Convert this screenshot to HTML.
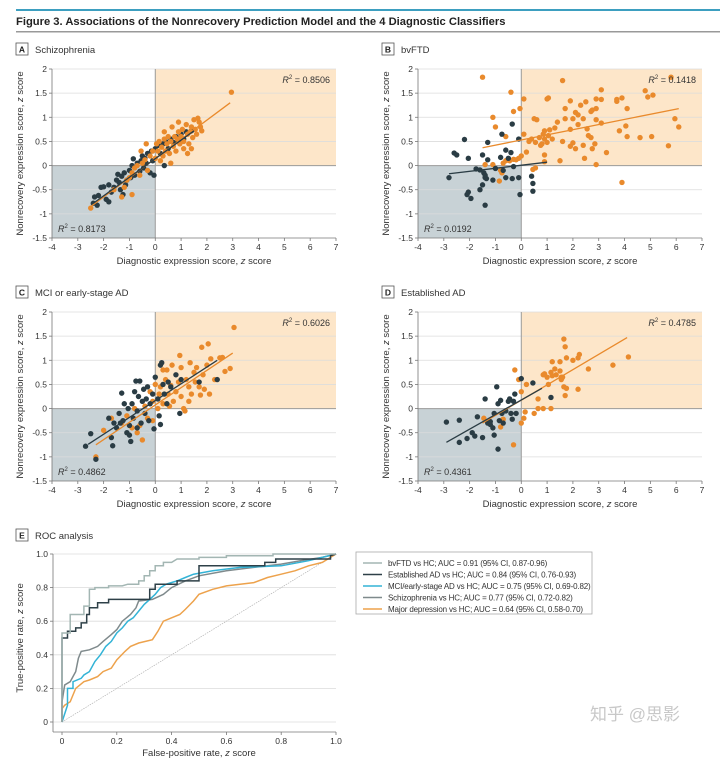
<!DOCTYPE html>
<html><head><meta charset="utf-8"><style>
body{margin:0;background:#fff;}
svg{display:block;font-family:"Liberation Sans",sans-serif;}
</style></head><body>
<svg id="fig" width="720" height="763" viewBox="0 0 720 763" xmlns="http://www.w3.org/2000/svg">
<rect x="16" y="9" width="704" height="2" fill="#3d9fc0"/>
<text x="16" y="25" font-size="11.2" font-weight="bold" fill="#222">Figure 3. Associations of the Nonrecovery Prediction Model and the 4 Diagnostic Classifiers</text>
<rect x="16" y="31" width="704" height="1.5" fill="#999"/>
</svg>
<script>
const NS='http://www.w3.org/2000/svg';
const svg=document.getElementById('fig');
function mk(tag,attrs,parent){const e=document.createElementNS(NS,tag);for(const k in attrs)e.setAttribute(k,attrs[k]);(parent||svg).appendChild(e);return e;}

// ---------- scatter data ----------
const xTicks=[-4,-3,-2,-1,0,1,2,3,4,5,6,7];
const yTicks=[2,1.5,1,0.5,0,-0.5,-1,-1.5];
const yTickLabels=['2','1.5','1','0.5','0','-0.5','-1','-1.5'];
const panelLetters=['A','B','C','D'];
const panelTitles=['Schizophrenia','bvFTD','MCI or early-stage AD','Established AD'];
const r2Orange=['0.8506','0.1418','0.6026','0.4785'];
const r2Dark=['0.8173','0.0192','0.4862','0.4361'];
const fitOrange=[[-2.5,-0.85,2.9,1.3],[-1.5,0.37,6.1,1.18],[-2.3,-0.75,3.0,1.15],[-1.5,-0.3,4.1,1.47]];
const fitDark=[[-2.4,-0.78,1.5,0.72],[-2.8,-0.17,1.0,0.07],[-2.6,-0.74,2.4,1.0],[-2.9,-0.7,0.8,0.42]];
const darkA=[-2.4,-0.78,-2.35,-0.65,-2.2,-0.62,-2.1,-0.45,-2.0,-0.44,-1.9,-0.7,-1.8,-0.75,-1.7,-0.55,-1.6,-0.45,-1.5,-0.3,-1.45,-0.18,-1.4,-0.35,-1.35,-0.5,-1.3,-0.22,-1.2,-0.15,-1.15,-0.4,-1.1,-0.3,-1.0,-0.1,-0.95,-0.25,-0.9,0.0,-0.85,0.14,-0.8,-0.2,-0.7,0.05,-0.6,-0.12,-0.55,0.1,-0.5,0.2,-0.45,-0.05,-0.4,0.15,-0.35,0.05,-0.3,0.25,-0.2,-0.15,-0.15,0.3,-0.1,0.1,0.0,0.35,0.1,0.42,0.2,0.25,0.3,0.45,0.4,0.5,0.5,0.35,0.6,0.55,0.7,0.48,0.8,0.6,0.9,0.5,1.0,0.65,1.1,0.55,1.2,0.7,1.4,0.72,-1.25,-0.6,-1.8,-0.4,-0.05,-0.2,0.35,0.0,-2.25,-0.82];
const orangeA=[2.95,1.52,-2.5,-0.88,-1.6,-0.5,-1.3,-0.65,-1.2,-0.45,-1.1,-0.3,-0.9,-0.15,-0.8,-0.05,-0.7,0.0,-0.6,-0.2,-0.5,0.05,-0.4,0.12,-0.35,0.45,-0.3,-0.1,-0.2,0.2,-0.1,0.3,0.0,0.15,0.05,0.45,0.1,0.3,0.15,0.5,0.2,0.1,0.25,0.38,0.3,0.2,0.35,0.55,0.4,0.3,0.45,0.45,0.5,0.6,0.55,0.25,0.6,0.5,0.65,0.8,0.7,0.4,0.75,0.6,0.8,0.3,0.85,0.55,0.9,0.7,0.95,0.45,1.0,0.6,1.05,0.75,1.1,0.5,1.2,0.85,1.25,0.65,1.3,0.45,1.35,0.7,1.4,0.8,1.45,0.58,1.5,0.95,1.55,0.75,1.6,0.65,1.7,0.9,1.75,0.8,1.8,0.72,1.65,0.98,1.25,0.25,0.6,0.05,1.4,0.35,-1.0,-0.25,-0.55,0.3,0.35,0.7,0.9,0.9,1.1,0.35,-0.9,-0.6];
const darkB=[-2.2,0.54,-0.35,0.86,-0.75,0.65,-1.3,0.48,-0.1,0.55,-2.6,0.26,-2.5,0.22,-0.6,0.32,-0.4,0.27,-1.5,0.22,-0.8,0.17,-2.05,0.15,-1.3,0.12,-0.5,0.15,-1.75,-0.07,-1.6,-0.09,-1.0,-0.06,-0.3,-0.02,-1.45,-0.15,-2.8,-0.25,-1.4,-0.25,-1.35,-0.27,-1.1,-0.3,-0.6,-0.25,-0.35,-0.27,-0.1,-0.25,0.4,-0.22,-1.5,-0.4,0.45,-0.37,-1.6,-0.5,-2.1,-0.6,-2.05,-0.55,0.45,-0.53,-0.05,-0.6,-1.95,-0.68,-1.4,-0.82,-1.4,-0.2,-0.7,-0.1];
const orangeB=[-1.5,1.83,5.8,1.83,1.6,1.76,-0.4,1.52,3.1,1.57,4.8,1.55,5.1,1.46,4.9,1.42,1.05,1.4,1.0,1.38,0.1,1.38,2.9,1.38,3.1,1.37,3.7,1.37,3.9,1.4,1.9,1.34,2.5,1.32,2.3,1.25,1.7,1.18,-0.05,1.18,-0.3,1.12,2.1,1.1,2.9,1.18,2.75,1.15,2.7,1.12,4.1,1.18,3.7,1.33,2.2,1.05,-1.1,1.0,0.5,0.97,0.6,0.95,1.7,0.97,2.0,0.97,2.4,0.97,2.9,0.95,5.95,0.97,1.4,0.9,2.2,0.85,3.1,0.88,-1.0,0.8,1.9,0.75,2.55,0.76,0.9,0.72,1.1,0.74,1.3,0.78,6.1,0.8,4.05,0.82,0.1,0.65,3.8,0.72,0.85,0.65,1.05,0.62,2.6,0.62,-0.6,0.6,4.1,0.6,5.05,0.6,4.6,0.58,0.7,0.58,0.4,0.55,0.9,0.55,1.2,0.55,2.7,0.58,1.6,0.5,2.0,0.47,0.3,0.5,0.55,0.48,0.8,0.45,1.0,0.48,2.4,0.42,2.85,0.45,5.7,0.41,0.75,0.42,1.9,0.4,0.2,0.28,0.9,0.22,2.75,0.35,3.3,0.27,2.1,0.35,-0.3,0.13,-0.1,0.15,0.0,0.2,2.45,0.15,1.5,0.1,0.9,0.08,-0.6,0.1,-0.7,0.05,-1.4,0.02,-1.1,0.02,2.9,0.02,-0.8,-0.1,-0.75,-0.15,0.45,-0.08,0.55,-0.05,-0.85,-0.32,3.9,-0.35,-0.2,0.12,-0.45,0.1];
const darkC=[-2.7,-0.78,-2.5,-0.52,-2.3,-1.05,-1.8,-0.2,-1.7,-0.6,-1.65,-0.77,-1.6,-0.3,-1.5,-0.4,-1.4,-0.1,-1.3,0.32,-1.25,-0.25,-1.2,0.1,-1.1,-0.5,-1.05,0.0,-1.0,-0.35,-0.95,-0.68,-0.9,0.1,-0.85,-0.2,-0.8,0.35,-0.75,0.57,-0.7,-0.05,-0.65,0.25,-0.6,0.57,-0.55,-0.3,-0.5,0.15,-0.45,0.4,-0.4,-0.1,-0.35,0.2,-0.3,0.45,-0.25,-0.25,-0.2,0.1,-0.1,0.3,-0.05,-0.42,0.0,0.65,0.1,0.2,0.15,-0.15,0.2,0.9,0.25,0.95,0.3,0.5,0.35,0.3,0.45,0.1,0.5,0.55,0.6,0.45,0.8,0.7,0.95,-0.1,1.0,0.6,1.7,0.55,2.4,0.6,0.2,-0.33,-1.0,-0.55,-0.7,-0.4,-1.35,-0.3];
const orangeC=[3.05,1.68,-2.3,-1.0,-2.0,-0.45,-1.7,-0.2,-1.3,-0.3,-1.1,-0.15,-0.9,-0.4,-0.8,0.0,-0.7,-0.5,-0.6,-0.35,-0.5,-0.65,-0.4,0.05,-0.3,-0.2,-0.2,0.35,-0.1,0.15,0.0,0.5,0.1,0.0,0.15,0.3,0.2,0.45,0.3,0.1,0.4,0.6,0.5,0.3,0.6,0.48,0.7,0.15,0.8,0.35,0.9,0.55,0.95,1.1,1.0,0.25,1.1,0.0,1.15,-0.05,1.2,0.6,1.3,0.45,1.35,0.95,1.4,0.3,1.5,0.75,1.55,0.55,1.6,0.85,1.7,0.45,1.75,0.28,1.8,1.27,1.85,0.7,1.9,0.4,2.0,0.9,2.05,1.34,2.1,0.3,2.15,1.03,2.3,0.6,2.5,1.05,2.6,1.06,2.7,0.77,2.9,0.83,0.55,0.05,1.0,0.85,0.45,0.8,0.65,0.9,-0.1,-0.25,0.3,0.8,1.3,0.15];
const darkD=[-2.9,-0.28,-2.4,-0.7,-2.4,-0.24,-2.1,-0.62,-1.9,-0.5,-1.8,-0.57,-1.7,-0.17,-1.5,-0.6,-1.4,0.2,-1.3,-0.3,-1.2,-0.33,-1.1,-0.4,-1.05,-0.55,-1.05,-0.1,-0.95,0.45,-0.9,0.1,-0.85,-0.25,-0.8,0.17,-0.75,-0.1,-0.7,-0.3,-0.6,-0.05,-0.5,0.15,-0.45,0.2,-0.4,-0.1,-0.35,-0.22,-0.3,0.15,-0.25,0.3,-0.2,-0.1,0.0,0.62,0.45,0.53,1.15,0.23,-0.9,-0.84,-1.2,-0.27];
const orangeD=[-0.25,0.8,-0.1,0.6,0.0,0.35,0.0,-0.3,0.1,-0.2,0.15,-0.07,0.2,0.5,0.5,-0.1,0.65,0.2,0.65,0.0,0.85,0.0,0.85,0.7,0.9,0.72,1.0,0.65,1.05,0.5,1.15,0.0,1.15,0.75,1.2,0.97,1.2,0.68,1.3,0.82,1.35,0.7,1.5,0.97,1.5,0.78,1.55,0.6,1.6,0.65,1.65,1.44,1.7,1.28,1.65,0.45,1.7,0.27,1.75,0.42,1.75,1.05,2.0,1.0,2.2,1.05,2.25,1.12,2.2,0.4,2.6,0.82,3.55,0.9,4.15,1.07,-0.3,-0.75,-0.8,-0.38,-0.7,-0.22,-1.45,-0.2,1.55,0.65];
const darkSets=[darkA,darkB,darkC,darkD];
const orangeSets=[orangeA,orangeB,orangeC,orangeD];
const orangeOnTop=[true,false,false,false];

const ORANGE='#e98a2c', DARK='#2a3c44';
const panelOffsets=[[0,0],[366,0],[0,243],[366,243]];

function panel(i){
  const [ox,oy]=panelOffsets[i];
  const L=52+ox,R=336+ox,T=69+oy,B=238+oy;
  const sx=v=>L+(v-(-4))/(7-(-4))*(R-L);
  const sy=v=>B-(v-(-1.5))/(2-(-1.5))*(B-T);
  const g=mk('g',{});
  
  
  const lb=mk('rect',{x:16+ox,y:43+oy,width:12,height:12,fill:'#fff',stroke:'#555','stroke-width':0.8},g);
  
  const lt=mk('text',{x:22+ox,y:52.5+oy,'font-size':8.5,'font-weight':'bold','text-anchor':'middle',fill:'#222'},g);
  lt.textContent=panelLetters[i];
  
  const tt=mk('text',{x:35+ox,y:53+oy,'font-size':9.5,fill:'#333'},g);
  tt.textContent=panelTitles[i];
  
  const q1=mk('rect',{x:sx(0),y:T,width:R-sx(0),height:sy(0)-T,fill:'#fde6c9'},g);
  
  const q3=mk('rect',{x:L,y:sy(0),width:sx(0)-L,height:B-sy(0),fill:'#c8d2d6'},g);
  
  yTicks.forEach((t,k)=>{
    if(t!==-1.5){const gl=mk('line',{x1:L,x2:R,y1:sy(t),y2:sy(t),stroke:t===0?'#9a9a9a':'#dcdcdc','stroke-width':t===0?1:0.8},g);
    }
    const tl=mk('text',{x:L-5,y:sy(t)+3,'font-size':8.5,'text-anchor':'end',fill:'#333'},g);
    tl.textContent=yTickLabels[k];
    
    mk('line',{x1:L-3,x2:L,y1:sy(t),y2:sy(t),stroke:'#777','stroke-width':0.8},g);
  });
  const v0=mk('line',{x1:sx(0),x2:sx(0),y1:T,y2:B,stroke:'#9a9a9a','stroke-width':1},g);
  
  xTicks.forEach(t=>{
    mk('line',{x1:sx(t),x2:sx(t),y1:B,y2:B+3,stroke:'#777','stroke-width':0.8},g);
    const xl=mk('text',{x:sx(t),y:B+12,'font-size':8.5,'text-anchor':'middle',fill:'#333'},g);
    xl.textContent=String(t);
    
  });
  mk('line',{x1:L,x2:L,y1:T,y2:B,stroke:'#777','stroke-width':0.8},g);
  mk('line',{x1:L,x2:R,y1:B,y2:B,stroke:'#777','stroke-width':0.8},g);
  const xt=mk('text',{x:(L+R)/2,y:B+26,'font-size':9.5,'text-anchor':'middle',fill:'#333'},g);
  xt.innerHTML='Diagnostic expression score, <tspan font-style="italic">z</tspan> score';
  
  const yt=mk('text',{x:0,y:0,'font-size':9.5,'text-anchor':'middle',fill:'#333',transform:`translate(${L-29},${(T+B)/2}) rotate(-90)`},g);
  yt.innerHTML='Nonrecovery expression score, <tspan font-style="italic">z</tspan> score';
  
  function pts(arr,col,name){
    for(let k=0;k<arr.length;k+=2){
      const c=mk('circle',{cx:sx(arr[k]),cy:sy(arr[k+1]),r:2.7,fill:col},g);
      
      
    }
  }
  function fit(f,col,name){
    const l=mk('line',{x1:sx(f[0]),y1:sy(f[1]),x2:sx(f[2]),y2:sy(f[3]),stroke:col,'stroke-width':1.3},g);
    
  }
  if(orangeOnTop[i]){pts(darkSets[i],DARK,'dark-point');pts(orangeSets[i],ORANGE,'orange-point');}
  else{pts(orangeSets[i],ORANGE,'orange-point');pts(darkSets[i],DARK,'dark-point');}
  fit(fitOrange[i],ORANGE,'orange-fit-line');
  fit(fitDark[i],DARK,'dark-fit-line');
  const ro=mk('text',{x:R-6,y:T+14,'font-size':9,'text-anchor':'end',fill:'#333'},g);
  ro.innerHTML='<tspan font-style="italic">R</tspan><tspan font-size="6" dy="-4">2</tspan><tspan dy="4"> = '+r2Orange[i]+'</tspan>';
  
  const rd=mk('text',{x:L+6,y:B-6,'font-size':9,fill:'#333'},g);
  rd.innerHTML='<tspan font-style="italic">R</tspan><tspan font-size="6" dy="-4">2</tspan><tspan dy="4"> = '+r2Dark[i]+'</tspan>';
  
}
[0,1,2,3].forEach(panel);
</script>
<script>
// ---------- ROC data ----------
const rocTicks=[0,0.2,0.4,0.6,0.8,1.0];
const rocYLabels=['0','0.2','0.4','0.6','0.8','1.0'];
const rocXLabels=['0','0.2','0.4','0.6','0.8','1.0'];
const rocNames=['bvFTD vs HC; AUC = 0.91 (95% CI, 0.87-0.96)','Established AD vs HC; AUC = 0.84 (95% CI, 0.76-0.93)','MCI/early-stage AD vs HC; AUC = 0.75 (95% CI, 0.69-0.82)','Schizophrenia vs HC; AUC = 0.77 (95% CI, 0.72-0.82)','Major depression vs HC; AUC = 0.64 (95% CI, 0.58-0.70)'];
const rocColors=['#a3b6b3','#2e4048','#33b3d6','#7f8a8c','#eda24c'];
const rocBv=[[0,0],[0,0.53],[0.03,0.53],[0.03,0.64],[0.08,0.64],[0.08,0.69],[0.1,0.69],[0.1,0.79],[0.12,0.79],[0.12,0.8],[0.17,0.8],[0.17,0.81],[0.22,0.81],[0.24,0.82],[0.28,0.82],[0.28,0.84],[0.3,0.84],[0.3,0.87],[0.32,0.87],[0.32,0.9],[0.34,0.9],[0.34,0.93],[0.37,0.93],[0.37,0.95],[0.4,0.95],[0.42,0.97],[0.5,0.97],[0.5,0.98],[0.6,0.98],[0.6,0.99],[0.77,0.99],[0.77,1],[1,1]];
const rocAD=[[0,0],[0,0.5],[0.02,0.5],[0.02,0.54],[0.05,0.54],[0.05,0.56],[0.07,0.56],[0.07,0.59],[0.09,0.59],[0.09,0.64],[0.1,0.64],[0.1,0.68],[0.13,0.68],[0.13,0.71],[0.17,0.71],[0.17,0.73],[0.32,0.73],[0.32,0.79],[0.34,0.79],[0.34,0.82],[0.42,0.82],[0.42,0.84],[0.5,0.84],[0.5,0.93],[0.74,0.93],[0.74,0.95],[0.78,0.95],[0.78,0.97],[0.98,0.97],[0.98,0.99],[1,1]];
const rocMCI=[[0,0],[0.02,0.1],[0.02,0.2],[0.04,0.2],[0.04,0.24],[0.07,0.26],[0.08,0.28],[0.1,0.3],[0.12,0.36],[0.14,0.4],[0.16,0.45],[0.18,0.48],[0.2,0.53],[0.22,0.56],[0.24,0.6],[0.26,0.62],[0.28,0.66],[0.3,0.7],[0.32,0.73],[0.34,0.76],[0.36,0.8],[0.38,0.82],[0.42,0.84],[0.45,0.86],[0.48,0.88],[0.55,0.9],[0.65,0.92],[0.8,0.93],[0.9,0.96],[1,1]];
const rocSZ=[[0,0],[0,0.12],[0.01,0.22],[0.03,0.24],[0.05,0.3],[0.06,0.38],[0.07,0.42],[0.1,0.43],[0.13,0.45],[0.15,0.48],[0.18,0.52],[0.2,0.55],[0.22,0.6],[0.25,0.64],[0.27,0.68],[0.28,0.72],[0.33,0.73],[0.37,0.76],[0.4,0.8],[0.45,0.84],[0.5,0.87],[0.6,0.9],[0.7,0.92],[0.8,0.94],[0.87,0.96],[0.95,0.98],[1,1]];
const rocMDD=[[0,0],[0,0.08],[0.01,0.1],[0.03,0.12],[0.05,0.2],[0.08,0.24],[0.1,0.25],[0.13,0.27],[0.15,0.3],[0.18,0.32],[0.2,0.37],[0.23,0.42],[0.25,0.45],[0.28,0.47],[0.33,0.49],[0.35,0.54],[0.37,0.6],[0.4,0.62],[0.43,0.64],[0.45,0.67],[0.48,0.72],[0.5,0.76],[0.55,0.79],[0.6,0.81],[0.65,0.82],[0.7,0.83],[0.75,0.86],[0.8,0.88],[0.85,0.9],[0.9,0.93],[0.95,0.95],[1,1]];
const rocSeries=[rocBv,rocAD,rocMCI,rocSZ,rocMDD];
const rocDrawOrder=[4,3,2,1,0];

(function(){
  const NS='http://www.w3.org/2000/svg';
  const svg=document.getElementById('fig');
  function mk(tag,attrs,parent){const e=document.createElementNS(NS,tag);for(const k in attrs)e.setAttribute(k,attrs[k]);(parent||svg).appendChild(e);return e;}
  const L=62,R=336,T=554,B=722,AX=53,AY=732;
  const sx=v=>L+v*(R-L), sy=v=>B-v*(B-T);
  const g=mk('g',{});
  
  const lb=mk('rect',{x:16,y:529,width:12,height:12,fill:'#fff',stroke:'#555','stroke-width':0.8},g);
  
  const lt=mk('text',{x:22,y:538.5,'font-size':8.5,'font-weight':'bold','text-anchor':'middle',fill:'#222'},g);
  lt.textContent='E';
  const tt=mk('text',{x:35,y:539,'font-size':9.5,fill:'#333'},g);
  tt.textContent='ROC analysis';
  rocTicks.forEach((t,k)=>{
    const gl=mk('line',{x1:AX,x2:R,y1:sy(t),y2:sy(t),stroke:'#dcdcdc','stroke-width':0.8},g);
    
    mk('line',{x1:AX-3,x2:AX,y1:sy(t),y2:sy(t),stroke:'#777','stroke-width':0.8},g);
    const yl=mk('text',{x:AX-5,y:sy(t)+3,'font-size':8.5,'text-anchor':'end',fill:'#333'},g);
    yl.textContent=rocYLabels[k];
    mk('line',{x1:sx(t),x2:sx(t),y1:AY,y2:AY+3,stroke:'#777','stroke-width':0.8},g);
    const xl=mk('text',{x:sx(t),y:AY+12,'font-size':8.5,'text-anchor':'middle',fill:'#333'},g);
    xl.textContent=rocXLabels[k];
  });
  mk('line',{x1:AX,x2:AX,y1:T,y2:AY,stroke:'#777','stroke-width':0.8},g);
  mk('line',{x1:AX,x2:R,y1:AY,y2:AY,stroke:'#777','stroke-width':0.8},g);
  const xt=mk('text',{x:(L+R)/2,y:AY+24,'font-size':9.5,'text-anchor':'middle',fill:'#333'},g);
  xt.innerHTML='False-positive rate, <tspan font-style="italic">z</tspan> score';
  
  const yt=mk('text',{x:0,y:0,'font-size':9.5,'text-anchor':'middle',fill:'#333',transform:`translate(23,${(T+B)/2}) rotate(-90)`},g);
  yt.innerHTML='True-positive rate, <tspan font-style="italic">z</tspan> score';
  
  const dg=mk('line',{x1:sx(0),y1:sy(0),x2:sx(1),y2:sy(1),stroke:'#aaa','stroke-width':0.6,'stroke-dasharray':'1.5,1'},g);
  
  rocDrawOrder.forEach(i=>{
    const d=rocSeries[i].map((p,k)=>(k?'L':'M')+sx(p[0]).toFixed(1)+','+sy(p[1]).toFixed(1)).join('');
    const p=mk('path',{d:d,fill:'none',stroke:rocColors[i],'stroke-width':1.5},g);
    
  });
  const lg=mk('g',{},g);
  
  mk('rect',{x:356,y:552,width:236,height:62,fill:'#fff',stroke:'#aaa','stroke-width':0.8},lg);
  rocNames.forEach((n,i)=>{
    const y=563+i*11.5;
    const ln=mk('line',{x1:363,x2:382,y1:y,y2:y,stroke:rocColors[i],'stroke-width':1.6},lg);
    
    const tx=mk('text',{x:388,y:y+3,'font-size':8,'letter-spacing':'-0.15',fill:'#333'},lg);
    tx.textContent=n;
  });
  const wm=mk('text',{x:590,y:720,'font-size':17,fill:'#c8c8c8','font-family':'"Liberation Sans","Noto Sans CJK SC",sans-serif'},g);
  wm.textContent='知乎 @思影';
})();
</script>
</body></html>
